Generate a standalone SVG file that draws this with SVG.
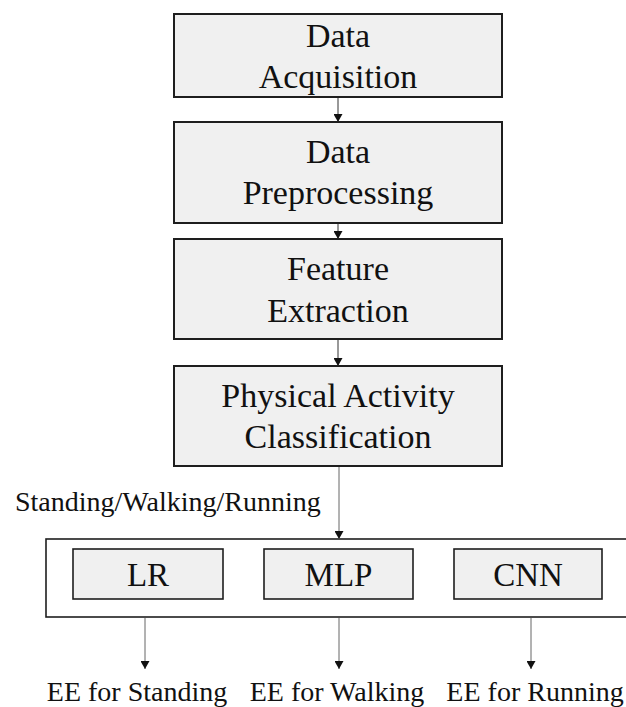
<svg xmlns="http://www.w3.org/2000/svg" width="626" height="707" viewBox="0 0 626 707">
<defs>
<style>
.box{fill:#f0f0f0;stroke:#1e1e1e;stroke-width:2}
.sub{fill:#f0f0f0;stroke:#1e1e1e;stroke-width:1.6}
.outer{fill:#ffffff;stroke:#1e1e1e;stroke-width:1.6}
text{font-family:'Liberation Serif','Times New Roman',serif;fill:#111}
.t{font-size:34px;text-anchor:middle}
.s{font-size:33px;text-anchor:middle}
.l{font-size:28px}
.c{stroke:#333;stroke-width:1;fill:none;marker-end:url(#ah)}
.c2{stroke:#666;stroke-width:1;fill:none;marker-end:url(#ah)}
</style>
<marker id="ah" viewBox="0 0 8 9" refX="8" refY="4.5" markerWidth="8" markerHeight="9" markerUnits="userSpaceOnUse" orient="auto">
<path d="M0,0 L8,4.5 L0,9 Z" fill="#111"/>
</marker>
</defs>
<rect width="626" height="707" fill="#ffffff"/>
<g id="acquisition">
<rect class="box" x="174" y="14" width="328" height="83"/>
<text class="t" x="338" y="47">Data</text>
<text class="t" x="338" y="88">Acquisition</text>
</g>
<g id="preprocessing">
<rect class="box" x="174" y="122" width="328" height="101"/>
<text class="t" x="338" y="163">Data</text>
<text class="t" x="338" y="204">Preprocessing</text>
</g>
<g id="feature">
<rect class="box" x="174" y="239" width="328" height="100"/>
<text class="t" x="338" y="280">Feature</text>
<text class="t" x="338" y="322">Extraction</text>
</g>
<g id="classification">
<rect class="box" x="174" y="366" width="328" height="100"/>
<text class="t" x="338" y="407">Physical Activity</text>
<text class="t" x="338" y="448">Classification</text>
</g>
<g id="models">
<rect class="outer" x="46" y="539" width="600" height="78"/>
</g>
<g id="lr">
<rect class="sub" x="73" y="549" width="150" height="50"/>
<text class="s" x="148" y="586">LR</text>
</g>
<g id="mlp">
<rect class="sub" x="264" y="549" width="149" height="50"/>
<text class="s" x="338.5" y="586">MLP</text>
</g>
<g id="cnn">
<rect class="sub" x="454" y="549" width="148" height="50"/>
<text class="s" x="528" y="586">CNN</text>
</g>
<g id="outputs">
<text class="l" x="137" y="701" text-anchor="middle">EE for Standing</text>
<text class="l" x="337" y="701" text-anchor="middle">EE for Walking</text>
<text class="l" x="535" y="701" text-anchor="middle">EE for Running</text>
</g>
<g id="connectors">
<line class="c" x1="338" y1="98" x2="338" y2="122"/>
<line class="c" x1="338" y1="224" x2="338" y2="239"/>
<line class="c" x1="338" y1="340" x2="338" y2="366"/>
<line class="c2" x1="339" y1="467" x2="339" y2="539"/>
<text class="l" x="15" y="511">Standing/Walking/Running</text>
<line class="c2" x1="145" y1="618" x2="145" y2="669"/>
<line class="c2" x1="339" y1="618" x2="339" y2="669"/>
<line class="c2" x1="531" y1="618" x2="531" y2="669"/>
</g>
</svg>
